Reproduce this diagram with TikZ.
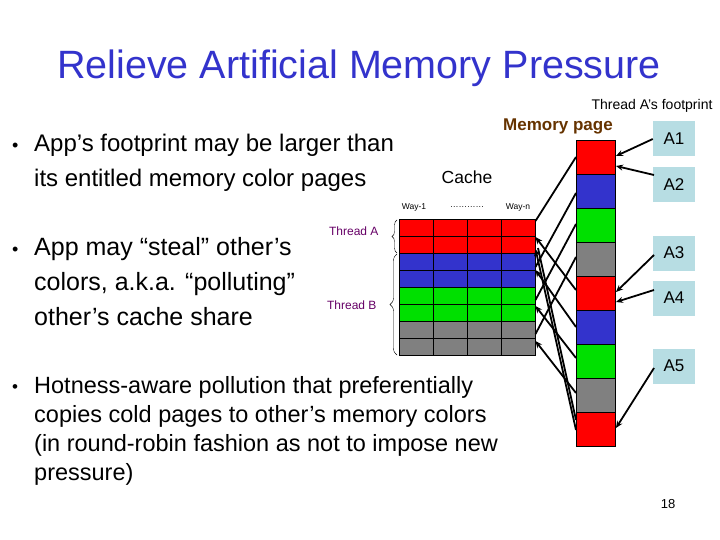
\documentclass[tikz,border=0pt]{standalone}
\usepackage{fontspec}
\setmainfont{Liberation Sans}
\usetikzlibrary{decorations.pathreplacing,arrows.meta}
\definecolor{ttl}{HTML}{3333CC}
\definecolor{mred}{HTML}{FF0000}
\definecolor{mblue}{HTML}{3333CC}
\definecolor{mgreen}{HTML}{00E000}
\definecolor{mgray}{HTML}{808080}
\definecolor{abox}{HTML}{B7DDE3}
\definecolor{brn}{HTML}{663300}
\definecolor{purp}{HTML}{660066}
\tikzset{
 cell/.style={draw=black,line width=0.6pt},
 abx/.style={fill=abox,minimum width=42pt,minimum height=35pt,inner sep=0pt,font=\fontsize{17}{17}\selectfont},
 link/.style={line width=1.8pt},
 tip/.style={line width=1.8pt,-{Stealth[length=7pt,width=6pt]}},
 txt/.style={anchor=west,inner sep=0pt,align=left},
}
\begin{document}
\begin{tikzpicture}[x=1pt,y=-1pt]
\useasboundingbox (0,0) rectangle (720,540);
\node[text=ttl,font=\fontsize{39.5}{39.5}\selectfont] (title) at (359,68) {Relieve Artificial Memory Pressure};
\node[font=\fontsize{14}{14}\selectfont] (fp) at (652,106) {Thread A's footprint};
\node[text=brn,font=\bfseries\fontsize{17}{17}\selectfont] (mp) at (558,126) {Memory page};
\node[font=\fontsize{17.5}{17.5}\selectfont] (cache) at (467,177) {Cache};
\node[font=\fontsize{8.5}{8.5}\selectfont] (w1) at (414,207) {Way-1};
\node[font=\fontsize{8.5}{8.5}\selectfont] (wd) at (467,207) {…………};
\node[font=\fontsize{8.5}{8.5}\selectfont] (wn) at (518,207) {Way-n};
% bullets
\node[txt,font=\fontsize{18}{18}\selectfont] (b1d) at (12,147) {•};
\node[txt,anchor=north west,font=\fontsize{24}{35}\selectfont] (b1) at (34,134) {App’s footprint may be larger than\\its entitled memory color pages};
\node[txt,font=\fontsize{18}{18}\selectfont] (b2d) at (12,251) {•};
\node[txt,anchor=north west,font=\fontsize{25}{35}\selectfont] (b2) at (34,237) {App may “steal” other’s\\colors, a.k.a. “polluting”\\other’s cache share};
\node[txt,font=\fontsize{17}{17}\selectfont] (b3d) at (12,389) {•};
\node[txt,anchor=north west,font=\fontsize{23.5}{29}\selectfont] (b3) at (34,376) {Hotness-aware pollution that preferentially\\copies cold pages to other’s memory colors\\(in round-robin fashion as not to impose new\\pressure)};
\node[font=\fontsize{13}{13}\selectfont] (pg) at (668,504) {18};
% cache grid
\foreach \r/\c in {0/mred,1/mred,2/mblue,3/mblue,4/mgreen,5/mgreen,6/mgray,7/mgray}{
 \foreach \k in {0,1,2,3}{
  \draw[cell,fill=\c] ({399+34*\k},{219+17*\r}) rectangle ({433+34*\k},{236+17*\r});
 }
}
% memory column
\foreach \i/\c in {0/mred,1/mblue,2/mgreen,3/mgray,4/mred,5/mblue,6/mgreen,7/mgray,8/mred}{
 \draw[cell,fill=\c] (576,{140+34*\i}) rectangle (615.5,{174+34*\i});
}
% braces
\draw[decorate,decoration={brace,amplitude=5pt}] (397,253) -- (397,220);
\node[text=purp,font=\fontsize{12}{12}\selectfont,anchor=east] (ta) at (382,231) {Thread A};
\draw[decorate,decoration={brace,amplitude=7pt}] (397,355) -- (397,254);
\node[text=purp,font=\fontsize{12}{12}\selectfont,anchor=east] (tb) at (380,305) {Thread B};
% links
\draw[link] (535.5,221) -- (576,157);
\draw[link] (535.5,267) -- (576,193);
\draw[link] (535.5,300) -- (576,224);
\draw[link] (535.5,334) -- (576,257);
\draw[tip] (576,290) -- (535.5,237);
\draw[tip] (576,327) -- (535.5,270);
\draw[tip] (576,358) -- (535.5,306);
\draw[tip] (576,393) -- (535.5,341);
\draw[link] (576,420) -- (538,248);
\draw[tip] (576,430) -- (535.5,249);
% A boxes
\node[abx] (a1) at (674,139) {A1};
\node[abx] (a2) at (674,185) {A2};
\node[abx] (a3) at (674,253) {A3};
\node[abx] (a4) at (674,298) {A4};
\node[abx] (a5) at (674,366) {A5};
\draw[tip] (a1.west) -- (616,156);
\draw[tip] (654,175) -- (616,166);
\draw[tip] (654,255) -- (616,292);
\draw[tip] (654,290) -- (616,302);
\draw[tip] (654,368) -- (616,428);
\end{tikzpicture}
\end{document}
